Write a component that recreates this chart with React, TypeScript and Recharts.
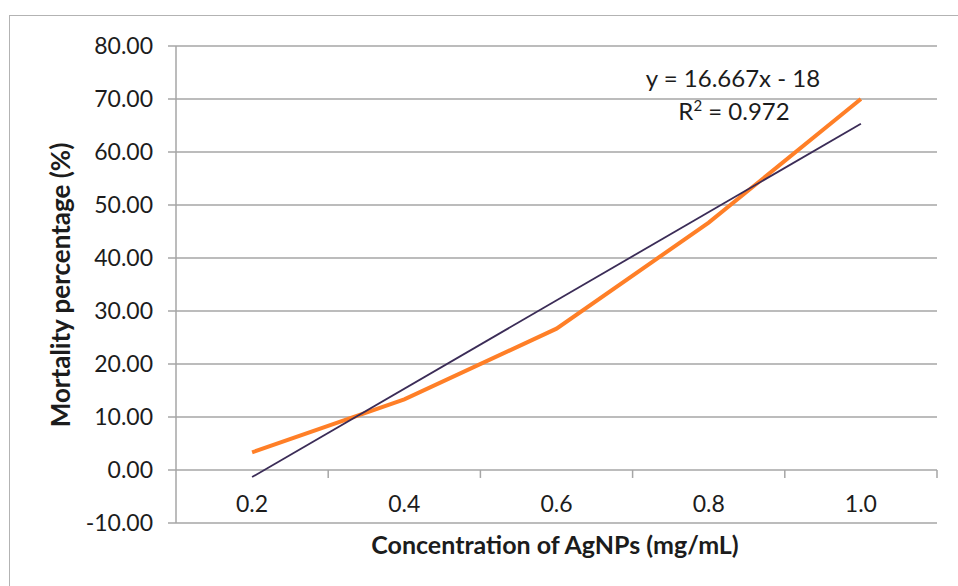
import {
  LineChart,
  Line,
  XAxis,
  YAxis,
  CartesianGrid,
  ReferenceLine,
  Customized,
} from 'recharts'

// AgNP concentration (mg/mL) and observed mortality (%)
const concentrations = [0.2, 0.4, 0.6, 0.8, 1.0]
const mortality = [3.33, 13.33, 26.67, 46.67, 70.0]

// linear trend fitted over the point index (1..n)
const trendSlope = 16.667
const trendIntercept = -18
const trendLabel = 'y = 16.667x - 18'
const rSquaredValue = '0.972'

const yTicks = [-10, 0, 10, 20, 30, 40, 50, 60, 70, 80]
// category boundaries where the axis tick marks sit
const categoryEdges = [0.3, 0.5, 0.7, 0.9, 1.1]

const data = concentrations.map((conc, i) => ({ conc, mortality: mortality[i] }))
const trendData = [
  { conc: concentrations[0], trend: trendSlope * 1 + trendIntercept },
  {
    conc: concentrations[concentrations.length - 1],
    trend: trendSlope * concentrations.length + trendIntercept,
  },
]

const FONT = 'Lato, "Open Sans", sans-serif'
const TEXT = '#1c1c1c'
const GRID = '#a6a6a6'

function XTick({ x, payload }: { x?: number; payload?: { value: number } }) {
  return (
    <text x={x} y={512} textAnchor="middle" fontFamily={FONT} fontSize={23} fill={TEXT}>
      {payload?.value.toFixed(1)}
    </text>
  )
}

function YTitle() {
  return (
    <text
      x={0}
      y={0}
      transform="translate(70 285) rotate(-90)"
      textAnchor="middle"
      fontFamily={FONT}
      fontWeight={700}
      fontSize={26}
      fill={TEXT}
    >
      Mortality percentage (%)
    </text>
  )
}

function Annotations() {
  return (
    <g fontFamily={FONT} fill={TEXT}>
      <text x={733} y={87} textAnchor="middle" fontSize={24}>
        {trendLabel}
      </text>
      <text x={734} y={120} textAnchor="middle" fontSize={24}>
        R<tspan dy={-9} fontSize={15}>2</tspan>
        <tspan dy={9}> = {rSquaredValue}</tspan>
      </text>
      <text x={555} y={554} textAnchor="middle" fontSize={25} fontWeight={700}>
        Concentration of AgNPs (mg/mL)
      </text>
    </g>
  )
}

export default function App() {
  return (
    <div
      style={{
        position: 'absolute',
        left: 0,
        top: 0,
        width: 958,
        height: 586,
        overflow: 'hidden',
        background: '#fff',
      }}
    >
      <div
        style={{
          position: 'absolute',
          left: 9,
          top: 15,
          width: 980,
          height: 620,
          border: '1.5px solid #b3b3b3',
        }}
      />
      <LineChart
        width={958}
        height={586}
        data={data}
        margin={{ top: 46, right: 21, bottom: 0, left: 0 }}
        style={{ position: 'absolute', left: 0, top: 0 }}
      >
        <CartesianGrid vertical={false} stroke={GRID} strokeWidth={1.5} />
        <XAxis
          dataKey="conc"
          type="number"
          domain={[0.1, 1.1]}
          ticks={concentrations}
          axisLine={false}
          tickLine={false}
          tick={<XTick />}
          height={63}
        />
        <YAxis
          type="number"
          domain={[-10, 80]}
          ticks={yTicks}
          width={176}
          axisLine={{ stroke: GRID, strokeWidth: 1.5 }}
          tickLine={{ stroke: GRID, strokeWidth: 1.5 }}
          tickSize={8}
          tickMargin={15}
          tickFormatter={(v: number) => v.toFixed(2)}
          tick={{ fontFamily: FONT, fontSize: 23, fill: TEXT }}
          label={<YTitle />}
        />
        {categoryEdges.map((edge) => (
          <ReferenceLine
            key={edge}
            segment={[
              { x: edge, y: 0 },
              { x: edge, y: -1.5 },
            ]}
            stroke={GRID}
            strokeWidth={1.5}
          />
        ))}
        <Line
          dataKey="mortality"
          stroke="#ff7f27"
          strokeWidth={4}
          dot={false}
          isAnimationActive={false}
        />
        <Line
          data={trendData}
          dataKey="trend"
          stroke="#3b2c57"
          strokeWidth={1.8}
          dot={false}
          isAnimationActive={false}
        />
        <Customized component={Annotations} />
      </LineChart>
    </div>
  )
}
